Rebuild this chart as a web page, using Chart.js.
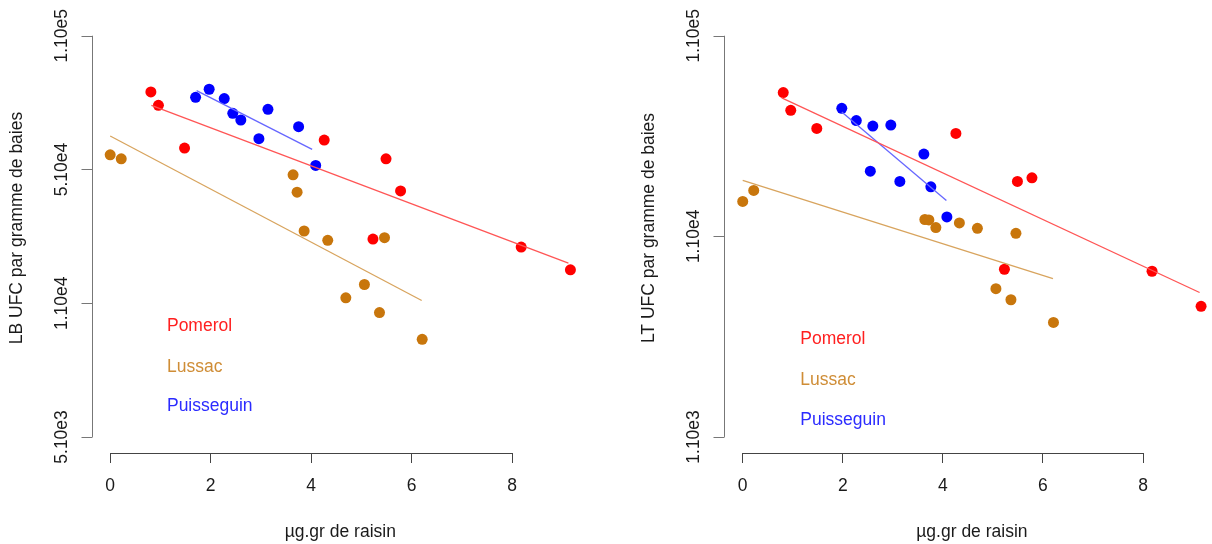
<!DOCTYPE html>
<html>
<head>
<meta charset="utf-8">
<script src="https://cdn.jsdelivr.net/npm/chart.js@4/dist/chart.umd.min.js"></script>
<style>
  html, body { margin: 0; padding: 0; background: #fff; overflow: hidden; }
  #wrap { position: relative; width: 1212px; height: 544px; overflow: hidden; }
  #lb { position: absolute; left: 0; top: 0; }
  #lt { position: absolute; left: 606px; top: 0; }
</style>
</head>
<body>
<div id="wrap">
  <canvas id="lb" width="606" height="544"></canvas>
  <canvas id="lt" width="620" height="544"></canvas>
</div>
<script>
// values; y is in "tick steps" of the log axis (0 = lowest tick)
const xTicks = [0, 2, 4, 6, 8];

const pomerolX = [0.81, 0.96, 1.48, 4.26, 5.49, 5.78, 5.23, 8.18, 9.16];
const lussacX = [0, 0.22, 3.64, 3.72, 3.86, 4.33, 5.46, 5.06, 4.69, 5.36, 6.21];

// left panel: LB
const lbTickLabels = ['5.10e3', '1.10e4', '5.10e4', '1.10e5'];
const lbPomerol = [2.58, 2.48, 2.16, 2.22, 2.08, 1.84, 1.48, 1.42, 1.25];
const lbLussac = [2.11, 2.08, 1.96, 1.83, 1.54, 1.47, 1.49, 1.14, 1.04, 0.93, 0.73];
const lbPuisseguinX = [1.70, 1.97, 2.27, 2.44, 2.60, 3.14, 2.96, 3.75, 4.09];
const lbPuisseguin = [2.54, 2.60, 2.53, 2.42, 2.37, 2.45, 2.23, 2.32, 2.03];
// fitted lines: [x0, y0, x1, y1]
const lbFitPomerol = [0.82, 2.48, 9.12, 1.30];
const lbFitLussac = [0, 2.25, 6.20, 1.02];
const lbFitPuisseguin = [1.72, 2.59, 4.02, 2.15];
const lbLegendY = [0.83, 0.52, 0.23];

// right panel: LT
const ltTickLabels = ['1.10e3', '1.10e4', '1.10e5'];
const ltPomerol = [1.717, 1.628, 1.538, 1.513, 1.274, 1.292, 0.836, 0.826, 0.651];
const ltLussac = [1.174, 1.229, 1.084, 1.082, 1.044, 1.067, 1.015, 0.739, 1.04, 0.684, 0.571];
const ltPuisseguinX = [1.98, 2.27, 2.60, 2.96, 3.62, 2.55, 3.14, 3.76, 4.08];
const ltPuisseguin = [1.638, 1.577, 1.55, 1.555, 1.41, 1.325, 1.274, 1.247, 1.097];
const ltFitPomerol = [0.78, 1.69, 9.13, 0.72];
const ltFitLussac = [0, 1.279, 6.20, 0.789];
const ltFitPuisseguin = [1.98, 1.62, 4.07, 1.179];
const ltLegendY = [0.486, 0.285, 0.086];

const communes = ['Pomerol', 'Lussac', 'Puisseguin'];
const pointColors = ['#ff0000', '#c8760c', '#0000ff'];
const lineColors = ['#ff5555', '#d8a45e', '#6666ff'];
const textColors = ['#ff2020', '#cf8d36', '#2b2bff'];

const FONT = '"Liberation Sans", Arial, sans-serif';
const FS = 17.5;

function pts(xs, ys) {
    return xs.map((x, i) => ({ x: x, y: ys[i] }));
}

function fitLine(f, color) {
    return {
        type: 'line',
        data: [{ x: f[0], y: f[1] }, { x: f[2], y: f[3] }],
        borderColor: color,
        borderWidth: 1.3,
        pointRadius: 0,
        fill: false,
    };
}

function dots(data, color) {
    return {
        type: 'scatter',
        data: data,
        backgroundColor: color,
        borderWidth: 0,
        pointRadius: 5.5,
        pointHoverRadius: 5.5,
    };
}

// R-like axes: y axis line + rotated tick labels + titles + in-plot legend
const rAxes = {
    id: 'rAxes',
    afterDraw(chart, args, opts) {
        const ctx = chart.ctx;
        const xs = chart.scales.x;
        const ys = chart.scales.y;
        const area = chart.chartArea;
        ctx.save();

        // x axis line from first to last tick
        ctx.strokeStyle = '#444';
        ctx.lineWidth = 1;
        ctx.beginPath();
        ctx.moveTo(xs.getPixelForValue(xTicks[0]), area.bottom + 0.5);
        ctx.lineTo(xs.getPixelForValue(xTicks[xTicks.length - 1]), area.bottom + 0.5);
        ctx.stroke();

        // y axis line and ticks
        const labels = opts.tickLabels;
        const x0 = Math.round(area.left) + 0.5;
        ctx.strokeStyle = '#777';
        ctx.beginPath();
        ctx.moveTo(x0, ys.getPixelForValue(0));
        ctx.lineTo(x0, ys.getPixelForValue(labels.length - 1));
        labels.forEach((l, i) => {
            const y = Math.round(ys.getPixelForValue(i)) + 0.5;
            ctx.moveTo(x0, y);
            ctx.lineTo(x0 - 11, y);
        });
        ctx.stroke();

        ctx.fillStyle = '#1a1a1a';
        ctx.font = FS + 'px ' + FONT;
        ctx.textAlign = 'center';
        labels.forEach((l, i) => {
            ctx.save();
            ctx.translate(area.left - 25, ys.getPixelForValue(i));
            ctx.rotate(-Math.PI / 2);
            ctx.textBaseline = 'alphabetic';
            ctx.fillText(l, 0, 0);
            ctx.restore();
        });

        // y title
        ctx.save();
        ctx.translate(area.left - 70, opts.titleY);
        ctx.rotate(-Math.PI / 2);
        ctx.fillText(opts.title, 0, 0);
        ctx.restore();

        // legend text placed in data coordinates
        ctx.textAlign = 'left';
        ctx.textBaseline = 'middle';
        communes.forEach((c, i) => {
            ctx.fillStyle = textColors[i];
            ctx.fillText(c, xs.getPixelForValue(opts.legendX), ys.getPixelForValue(opts.legendY[i]));
        });
        ctx.restore();
    }
};

function makeChart(canvas, cfg) {
    const datasets = [
        fitLine(cfg.fits[0], lineColors[0]),
        fitLine(cfg.fits[1], lineColors[1]),
        fitLine(cfg.fits[2], lineColors[2]),
        dots(pts(pomerolX, cfg.pomerol), pointColors[0]),
        dots(pts(lussacX, cfg.lussac), pointColors[1]),
        dots(pts(cfg.puisseguinX, cfg.puisseguin), pointColors[2]),
    ];
    const nTicks = cfg.tickLabels.length - 1;
    const pad = nTicks * 0.04;
    return new Chart(canvas, {
        type: 'scatter',
        data: { datasets: datasets },
        options: {
            responsive: false,
            animation: false,
            events: [],
            layout: { padding: { left: 0, top: 19.7, right: cfg.padRight, bottom: 0 } },
            plugins: {
                legend: { display: false },
                tooltip: { enabled: false },
                rAxes: {
                    tickLabels: cfg.tickLabels,
                    title: cfg.title,
                    titleY: 228,
                    legendX: cfg.legendX,
                    legendY: cfg.legendY,
                },
            },
            scales: {
                x: {
                    type: 'linear',
                    min: -0.37,
                    max: 9.53,
                    afterBuildTicks: (s) => { s.ticks = xTicks.map(v => ({ value: v })); },
                    afterFit: (s) => { s.height = 91; },
                    border: { display: false },
                    grid: { drawOnChartArea: false, drawTicks: true, tickLength: 10, color: '#444', tickColor: '#444' },
                    ticks: { color: '#1a1a1a', padding: 13, maxRotation: 0, font: { family: FONT, size: FS } },
                    title: { display: true, text: 'µg.gr de raisin', color: '#1a1a1a', padding: { top: 0, bottom: 1 }, font: { family: FONT, size: FS } },
                },
                y: {
                    type: 'linear',
                    min: -pad,
                    max: nTicks + pad,
                    afterFit: (s) => { s.width = cfg.yWidth; },
                    border: { display: false },
                    grid: { display: false },
                    ticks: { display: false },
                },
            },
        },
        plugins: [rAxes],
    });
}

makeChart(document.getElementById('lb'), {
    tickLabels: lbTickLabels,
    title: 'LB UFC par gramme de baies',
    pomerol: lbPomerol,
    lussac: lbLussac,
    puisseguinX: lbPuisseguinX,
    puisseguin: lbPuisseguin,
    fits: [lbFitPomerol, lbFitLussac, lbFitPuisseguin],
    legendX: 1.13,
    legendY: lbLegendY,
    yWidth: 91.6,
    padRight: 17,
});

makeChart(document.getElementById('lt'), {
    tickLabels: ltTickLabels,
    title: 'LT UFC par gramme de baies',
    pomerol: pomerolX.map((x, i) => ltPomerol[i]),
    lussac: ltLussac,
    puisseguinX: ltPuisseguinX,
    puisseguin: ltPuisseguin,
    fits: [ltFitPomerol, ltFitLussac, ltFitPuisseguin],
    legendX: 1.15,
    legendY: ltLegendY,
    yWidth: 118.2,
    padRight: 6.4,
});
</script>
</body>
</html>
